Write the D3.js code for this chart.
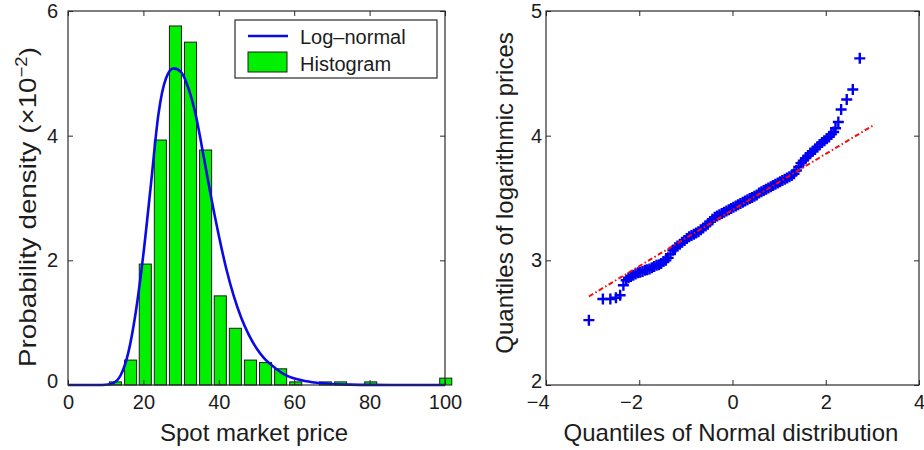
<!DOCTYPE html>
<html>
<head>
<meta charset="utf-8">
<script src="https://cdn.jsdelivr.net/npm/d3@7"></script>
<style>
  body { margin: 0; background: #fff; }
  svg { display: block; }
  text { font-family: "Liberation Sans", Arial, Helvetica, sans-serif; fill: #1c1c1c; }
</style>
</head>
<body>
<svg id="fig" width="924" height="450"></svg>
<script>
// ---- Histogram of spot market prices (density, x10^-2) ----
const binCenters = [12.6, 16.6, 20.5, 24.5, 28.5, 32.5, 36.5, 40.4, 44.4, 48.4, 52.4, 56.4,
                    60.4, 64.4, 68.3, 72.3, 76.3, 80.3, 84.3, 88.3, 92.3, 96.2, 100.2];
const binDensity = [0.05, 0.40, 1.94, 3.93, 5.76, 5.50, 3.77, 1.43, 0.91, 0.40, 0.36, 0.26,
                    0.05, 0, 0.05, 0.05, 0, 0.05, 0, 0, 0, 0, 0.11];

// ---- Fitted log-normal density (x10^-2) ----
const pdfPrice   = [0, 5, 8, 10, 12, 14, 16, 18, 20, 22, 24, 26, 28, 30, 32, 34, 36, 38, 40,
                    42, 44, 46, 48, 50, 52, 55, 58, 62, 66, 70, 75, 80, 90, 100];
const pdfDensity = [0, 0, 0, 0.003, 0.03, 0.16, 0.52, 1.18, 2.10, 3.22, 4.35, 4.92, 5.08, 5.02,
                    4.75, 4.30, 3.66, 3.00, 2.40, 1.86, 1.42, 1.07, 0.80, 0.59, 0.43, 0.27, 0.15,
                    0.075, 0.035, 0.016, 0.006, 0.002, 0, 0];

const priceTicks   = [0, 20, 40, 60, 80, 100];
const densityTicks = [0, 2, 4, 6];
const legendLabels = ["Log–normal", "Histogram"];

// ---- Q-Q plot: normal quantiles vs quantiles of log prices ----
const qqNormal = [-3.08, -2.78, -2.62, -2.50, -2.41, -2.34, -2.28, -2.23, -2.18, -2.13, -2.08,
  -2.03, -1.98, -1.93, -1.88, -1.83, -1.78, -1.73, -1.68, -1.63, -1.58, -1.53, -1.48, -1.43,
  -1.38, -1.33, -1.28, -1.23, -1.18, -1.13, -1.08, -1.03, -0.98, -0.93, -0.88, -0.83, -0.78,
  -0.73, -0.68, -0.63, -0.58, -0.53, -0.48, -0.43, -0.38, -0.33, -0.28, -0.23, -0.18, -0.13,
  -0.08, -0.03, 0.02, 0.07, 0.12, 0.17, 0.22, 0.27, 0.32, 0.37, 0.42, 0.47, 0.52, 0.57, 0.62,
  0.67, 0.72, 0.77, 0.82, 0.87, 0.92, 0.97, 1.02, 1.07, 1.12, 1.17, 1.22, 1.27, 1.32, 1.37,
  1.42, 1.47, 1.52, 1.57, 1.62, 1.67, 1.72, 1.77, 1.82, 1.87, 1.92, 1.97, 2.02, 2.07, 2.12,
  2.17, 2.21, 2.27, 2.33, 2.45, 2.58, 2.73];
const qqLogPrice = [2.52, 2.69, 2.69, 2.70, 2.72, 2.80, 2.84, 2.86, 2.87, 2.88, 2.89,
  2.90, 2.905, 2.91, 2.92, 2.925, 2.93, 2.94, 2.95, 2.96, 2.965, 2.975, 2.99, 3.00,
  3.02, 3.05, 3.08, 3.10, 3.115, 3.13, 3.145, 3.16, 3.175, 3.19, 3.20, 3.21, 3.22,
  3.23, 3.245, 3.26, 3.275, 3.29, 3.31, 3.33, 3.345, 3.355, 3.365, 3.375, 3.385, 3.395,
  3.405, 3.415, 3.425, 3.435, 3.445, 3.455, 3.465, 3.475, 3.485, 3.495, 3.505, 3.515, 3.525, 3.54, 3.55,
  3.56, 3.57, 3.58, 3.59, 3.60, 3.61, 3.62, 3.63, 3.64, 3.65, 3.66, 3.67, 3.68, 3.695, 3.72,
  3.75, 3.78, 3.80, 3.82, 3.84, 3.86, 3.875, 3.89, 3.91, 3.93, 3.945, 3.96, 3.975, 3.99, 4.01,
  4.03, 4.06, 4.11, 4.21, 4.29, 4.37, 4.62];
const refLineNormal   = [-3.08, 3.05];
const refLineLogPrice = [2.71, 4.09];

const normalTicks   = [-4, -2, 0, 2, 4];
const logPriceTicks = [2, 3, 4, 5];

// ---- Layout ----
const svg = d3.select("#fig");
const FONT = '"Liberation Sans", Arial, Helvetica, sans-serif';
const INK = "#1c1c1c";
const FRAME = "#2a2a2a";

const xL = d3.scaleLinear().domain([0, 100]).range([68, 445]);
const yL = d3.scaleLinear().domain([0, 6]).range([385, 11]);
const xR = d3.scaleLinear().domain([-4, 4]).range([546, 919]);
const yR = d3.scaleLinear().domain([2, 5]).range([385, 11]);

// Boxed axes with inward ticks on all four sides
function boxAxes(x, y, xTicks, yTicks, yPad) {
  const g = svg.append("g");
  const [x0, x1] = x.range();
  const [y0, y1] = y.range();
  const fmt = d3.format("d");

  const styleAxis = sel => {
    sel.select(".domain").remove();
    sel.attr("font-family", FONT).attr("font-size", 20);
    sel.selectAll(".tick line").attr("stroke", FRAME).attr("stroke-width", 1);
    sel.selectAll(".tick text").attr("fill", INK);
  };

  g.append("g").attr("transform", `translate(0,${y0})`)
    .call(d3.axisBottom(x).tickValues(xTicks).tickSize(-5).tickPadding(10).tickFormat(fmt))
    .call(styleAxis)
    .call(s => s.selectAll(".tick text").attr("dx", d => d < 0 ? "-0.42em" : null));
  g.append("g").attr("transform", `translate(0,${y1})`)
    .call(d3.axisTop(x).tickValues(xTicks).tickSize(-5).tickFormat(""))
    .call(styleAxis);
  g.append("g").attr("transform", `translate(${x0},0)`)
    .call(d3.axisLeft(y).tickValues(yTicks).tickSize(-5).tickPadding(yPad).tickFormat(fmt))
    .call(styleAxis)
    .call(s => s.selectAll(".tick text").filter(d => d === y.domain()[0]).attr("dy", "0.1em"));
  g.append("g").attr("transform", `translate(${x1},0)`)
    .call(d3.axisRight(y).tickValues(yTicks).tickSize(-5).tickFormat(""))
    .call(styleAxis);

  g.append("rect")
    .attr("x", x0).attr("y", y1)
    .attr("width", x1 - x0).attr("height", y0 - y1)
    .attr("fill", "none").attr("stroke", FRAME).attr("stroke-width", 1.2);
}

// ---- Left panel: histogram + log-normal fit ----
const binStep = binCenters[1] - binCenters[0];
const barW = xL(binStep * 0.8) - xL(0);
const bins = binCenters.map((c, i) => ({ c, v: binDensity[i] })).filter(d => d.v > 0);

svg.append("g").selectAll("rect").data(bins).join("rect")
  .attr("x", d => xL(d.c) - barW / 2)
  .attr("y", d => yL(d.v))
  .attr("width", barW)
  .attr("height", d => yL(0) - yL(d.v))
  .attr("fill", "#00f000")
  .attr("stroke", "#1e1e1e")
  .attr("stroke-width", 1);

const pdfLine = d3.line()
  .x((d, i) => xL(pdfPrice[i]))
  .y(d => yL(d))
  .curve(d3.curveMonotoneX);

svg.append("path")
  .datum(pdfDensity)
  .attr("d", pdfLine)
  .attr("fill", "none")
  .attr("stroke", "#0a0ae6")
  .attr("stroke-width", 2.6);

boxAxes(xL, yL, priceTicks, densityTicks, 10);

// Legend
const lg = svg.append("g").attr("font-family", FONT);
lg.append("rect").attr("x", 235).attr("y", 20).attr("width", 202).attr("height", 58)
  .attr("fill", "#fff").attr("stroke", FRAME).attr("stroke-width", 1.2);
lg.append("line").attr("x1", 248).attr("x2", 288).attr("y1", 36).attr("y2", 36)
  .attr("stroke", "#0a0ae6").attr("stroke-width", 2.6);
lg.append("rect").attr("x", 248).attr("y", 52).attr("width", 39).attr("height", 20)
  .attr("fill", "#00f000").attr("stroke", "#1e1e1e").attr("stroke-width", 1);
lg.selectAll("text.lab").data(legendLabels).join("text")
  .attr("class", "lab")
  .attr("x", 300)
  .attr("y", (d, i) => 44 + i * 27)
  .attr("font-size", 20)
  .text(d => d);

// ---- Right panel: Q-Q plot ----
const qq = svg.append("g");
qq.selectAll("path").data(qqNormal).join("path")
  .attr("transform", (d, i) => `translate(${xR(d)},${yR(qqLogPrice[i])})`)
  .attr("d", "M-5.5,0H5.5M0,-5.5V5.5")
  .attr("fill", "none")
  .attr("stroke", "#0000f0")
  .attr("stroke-width", 2.4);

svg.append("path")
  .datum(refLineNormal)
  .attr("d", d3.line().x(d => xR(d)).y((d, i) => yR(refLineLogPrice[i])))
  .attr("fill", "none")
  .attr("stroke", "#f01010")
  .attr("stroke-width", 2)
  .attr("stroke-dasharray", "5,2.5,1.5,2.5");

boxAxes(xR, yR, normalTicks, logPriceTicks, 4);

// ---- Axis titles ----
const titles = svg.append("g").attr("font-family", FONT).attr("font-size", 24).attr("text-anchor", "middle");
titles.append("text").attr("x", 254).attr("y", 441).text("Spot market price");
titles.append("text").attr("x", 731).attr("y", 441).text("Quantiles of Normal distribution");
titles.append("text")
  .attr("transform", "translate(513,193) rotate(-90)")
  .text("Quantiles of logarithmic prices");

const yl = titles.append("text").attr("transform", "translate(36,207) rotate(-90)");
yl.append("tspan").text("Probability density (×10");
yl.append("tspan").attr("font-size", 16).attr("dy", -9).text("−2");
yl.append("tspan").attr("dy", 9).text(")");
// stretch the density label along its run to span the panel height
const ylLen = yl.node().getComputedTextLength();
yl.attr("transform", `translate(36,207) rotate(-90) scale(${320 / ylLen},1)`);
</script>
</body>
</html>
